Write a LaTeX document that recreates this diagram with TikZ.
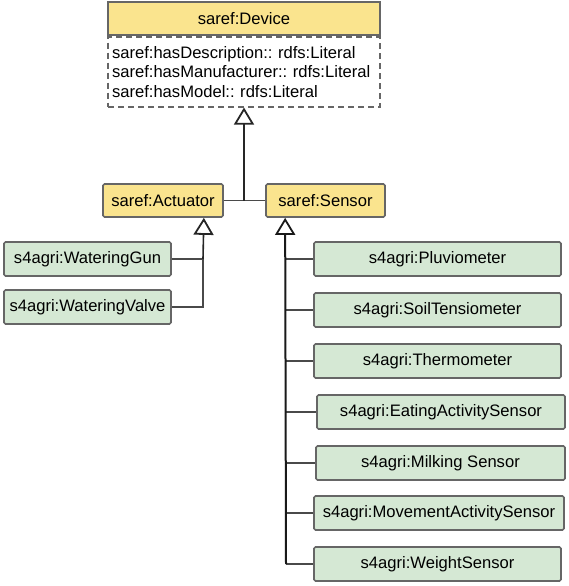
\documentclass[tikz,border=0pt]{standalone}
\usepackage{fontspec}
\setmainfont{Liberation Sans}
\usetikzlibrary{arrows.meta}
\definecolor{saryellow}{HTML}{FAE48E}
\definecolor{agrgreen}{HTML}{D5E8D4}
\definecolor{boxline}{HTML}{666666}
\definecolor{wireline}{HTML}{4A4A4A}
\tikzset{
	classbox/.style={shape=rectangle, draw=boxline, line width=1.7pt, rounded corners=1.5pt, minimum height=33pt, inner sep=2pt, font=\fontsize{16.6}{19.5}\selectfont\frenchspacing},
	sarefbox/.style={classbox, fill=saryellow},
	agribox/.style={classbox, fill=agrgreen, minimum height=34pt},
	wire/.style={draw=wireline, line width=1.6pt},
	isa/.style={wire, draw=black!85, -{Triangle[open, length=17pt, width=20pt, line width=1.8pt]}},
}
\begin{document}
\begin{tikzpicture}[x=1pt, y=1pt]
	\useasboundingbox (0, 0) rectangle (569, -586);
	% saref classes:
	\node[sarefbox, minimum width=272pt, rounded corners=0pt](devhead) at (244, -18.5){saref:Device};
	\node[classbox, anchor=north, minimum width=272pt, minimum height=70pt, dash pattern=on 6pt off 4pt, rounded corners=0pt, text width=264pt, align=left](devattr) at (devhead.south){saref:hasDescription:: rdfs:Literal\\saref:hasManufacturer:: rdfs:Literal\\saref:hasModel:: rdfs:Literal};
	\node[sarefbox, minimum width=120pt](act) at (163, -200.5){saref:Actuator};
	\node[sarefbox, minimum width=119pt](sens) at (325.5, -200.5){saref:Sensor};
	% s4agri actuators:
	\node[agribox, minimum width=167pt](gun) at (87.5, -259){s4agri:WateringGun};
	\node[agribox, minimum width=167pt](valve) at (87.5, -307){s4agri:WateringValve};
	% s4agri sensors:
	\node[agribox, minimum width=247pt](pluvio) at (437.5, -259){s4agri:Pluviometer};
	\node[agribox, minimum width=247pt](soil) at (437.5, -310){s4agri:SoilTensiometer};
	\node[agribox, minimum width=247pt](thermo) at (437.5, -361){s4agri:Thermometer};
	\node[agribox, minimum width=248pt](eating) at (441, -412){s4agri:EatingActivitySensor};
	\node[agribox, minimum width=249pt](milking) at (440.5, -463){s4agri:Milking Sensor};
	\node[agribox, minimum width=250pt](movement) at (439, -513){s4agri:MovementActivitySensor};
	\node[agribox, minimum width=247pt](weight) at (437.5, -564){s4agri:WeightSensor};
	% Generalisations:
	\coordinate (djoin) at (244, -200.5);
	\coordinate (ajoin) at (203, -259);
	\coordinate (sjoin) at (286, -564);
	\draw[wire] (act.east) -- (djoin) -- (sens.west);
	\draw[isa] (djoin) -- (devattr.south);
	\draw[wire] (gun.east) -- (ajoin);
	\draw[wire] (valve.east) -| (ajoin);
	\draw[isa] (ajoin) -- ([xshift=-20pt]act.south east);
	\foreach \sub in {pluvio, soil, thermo, eating, milking, movement}
		\draw[wire] (\sub.west) -- (\sub.west -| sjoin);
	\draw[wire] (weight.west) -- (sjoin);
	\draw[isa, draw=black!90, line width=2pt] (sjoin) -- ([xshift=20pt]sens.south west);
\end{tikzpicture}
\end{document}
